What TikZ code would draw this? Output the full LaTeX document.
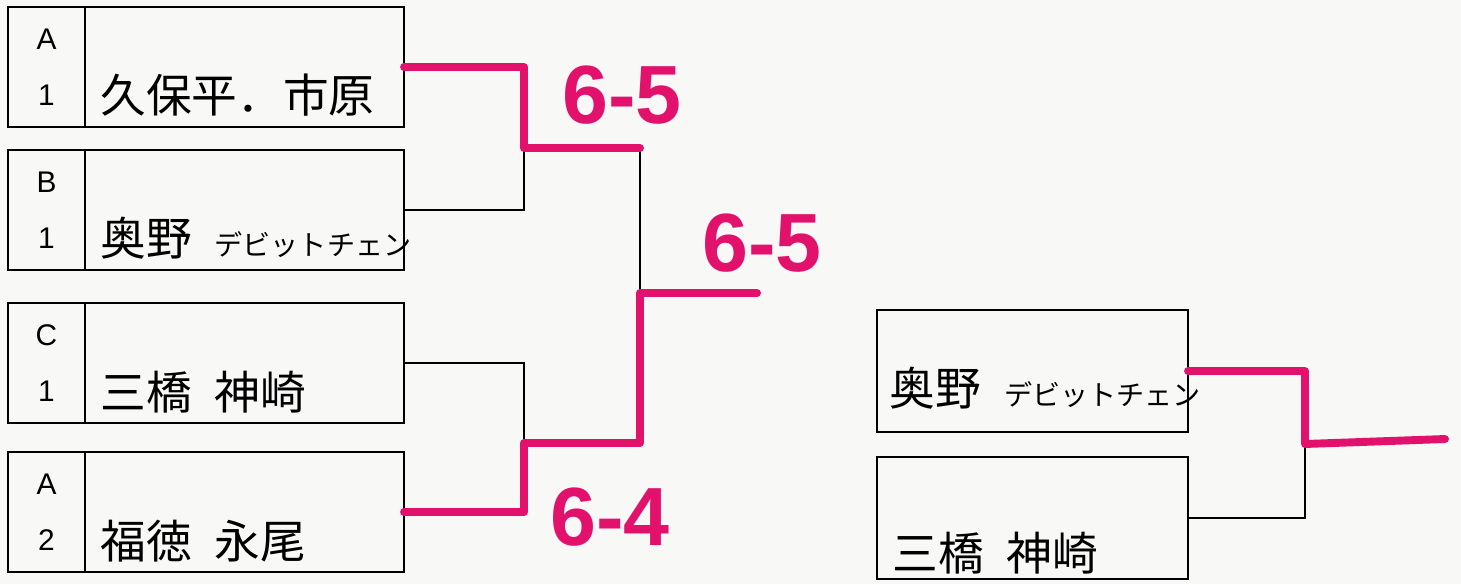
\documentclass[tikz,border=0pt]{standalone}
\usepackage{fontspec}
\setsansfont{Liberation Sans}
\newfontfamily\jpfont{Noto Sans CJK JP}
\usepackage{tikz}
\usetikzlibrary{positioning, calc}
\definecolor{marker}{RGB}{226,18,108}
\definecolor{paper}{RGB}{248,248,246}
\newcommand{\kana}[1]{{\fontsize{16}{18}\selectfont #1}}

\begin{document}
\begin{tikzpicture}[
    tagbox/.style={draw, line width=1.4pt, outer sep=0pt, minimum width=1.54cm, minimum height=2.4cm, inner sep=0pt,
                   anchor=north west, align=center, font=\sffamily\fontsize{17}{32}\selectfont},
    namebox/.style={draw, line width=1.4pt, outer sep=0pt, minimum width=6.38cm, minimum height=2.4cm, inner sep=0pt, anchor=north west},
    names/.style={inner sep=0pt, font=\jpfont\fontsize{26}{26}\selectfont},
    win/.style={draw=marker, line width=4.5pt, line cap=round, line join=round},
    lose/.style={draw, line width=0.9pt},
    score/.style={text=marker, font=\sffamily\bfseries\fontsize{47}{47}\selectfont}
]
\fill[paper] (0,0) rectangle (29.22,-11.68);
\useasboundingbox (0,0) rectangle (29.22,-11.68);

% left side: four entries
\node[tagbox] (t1) at (0.16,-0.14) {A\\1};
\node[namebox, right=0pt of t1.north east, anchor=north west] (e1) {};
\node[tagbox] (t2) at (0.16,-3.0) {B\\1};
\node[namebox, right=0pt of t2.north east, anchor=north west] (e2) {};
\node[tagbox] (t3) at (0.16,-6.06) {C\\1};
\node[namebox, right=0pt of t3.north east, anchor=north west] (e3) {};
\node[tagbox] (t4) at (0.16,-9.04) {A\\2};
\node[namebox, right=0pt of t4.north east, anchor=north west] (e4) {};

\node[names, above right=0.2cm and 0.3cm of e1.south west] (n1) {久保平．市原};
\node[names, above right=0.2cm and 0.3cm of e2.south west] (n2) {奥野\enspace\kana{デビットチェン}};
\node[names, above right=0.2cm and 0.3cm of e3.south west] (n3) {三橋\enspace 神崎};
\node[names, above right=0.2cm and 0.3cm of e4.south west] (n4) {福徳\enspace 永尾};

% right side: final pair
\node[namebox, minimum width=6.22cm, minimum height=2.44cm] (e5) at (17.54,-6.2) {};
\node[namebox, minimum width=6.22cm, minimum height=2.44cm] (e6) at (17.54,-9.14) {};
\node[names, above right=0.45cm and 0.25cm of e5.south west] (n5) {奥野\enspace\kana{デビットチェン}};
\node[names, above right=0.1cm and 0.3cm of e6.south west] (n6) {三橋\enspace 神崎};

% bracket joints
\coordinate (j1) at (10.48,-2.96);
\coordinate (j2) at (12.8,-2.96);
\coordinate (j3) at (10.48,-8.86);
\coordinate (j4) at (12.8,-8.86);
\coordinate (fin) at (12.8,-5.86);
\coordinate (champ) at (15.14,-5.86);
\coordinate (k) at (26.1,-8.88);
\coordinate (champ2) at (28.9,-8.78);

\draw[lose] (e2.east) -| (j1);
\draw[lose] (e3.east) -| (j3);
\draw[lose] (j2) -- (fin);
\draw[lose] (e6.east) -| (k);

\draw[win] (e1.east) -| (j1) -- (j2);
\draw[win] (e4.east) -| (j3) -- (j4) -- (fin) -- (champ);
\draw[win] (e5.east) -| (k) -- (champ2);

% scores
\node[score] (s1) at (12.44,-1.9) {6-5};
\node[score] (s2) at (15.24,-4.86) {6-5};
\node[score] (s3) at (12.2,-10.34) {6-4};
\end{tikzpicture}
\end{document}
